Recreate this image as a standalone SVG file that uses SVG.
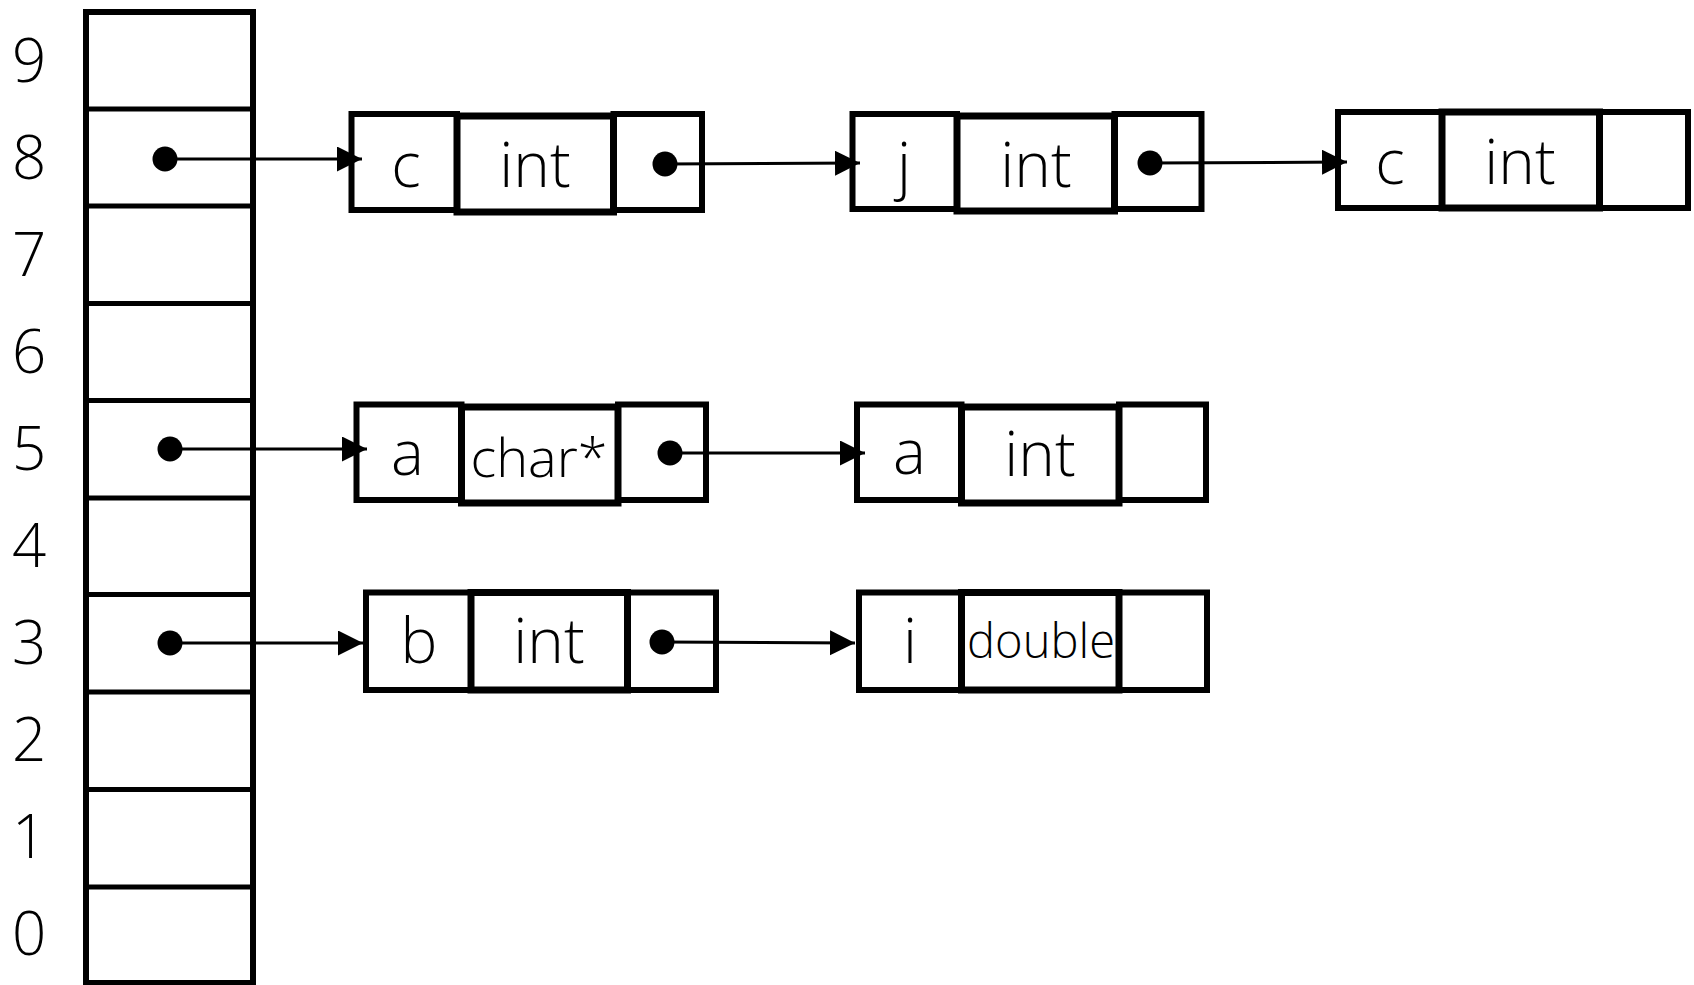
<svg xmlns="http://www.w3.org/2000/svg" width="1694" height="985" viewBox="0 0 1694 985">
<style>
.cell{fill:#fff;stroke:#000;stroke-width:6}
.tcell{fill:#fff;stroke:#000;stroke-width:7}
.div{stroke:#000;stroke-width:5}
.t{font-family:"Open Sans","Noto Sans","Noto Sans CJK SC",sans-serif;font-weight:300;font-size:62px;fill:#000;text-anchor:middle}
.idx{font-family:"Open Sans","Noto Sans","Noto Sans CJK SC",sans-serif;font-weight:300;font-size:60px;fill:#000;text-anchor:middle}
.dot{fill:#000}
.conn{stroke:#000;stroke-width:3;fill:none;marker-end:url(#arr)}
</style>
<defs>
<marker id="arr" markerUnits="userSpaceOnUse" markerWidth="26" markerHeight="26" refX="25" refY="12.5" orient="auto">
<path d="M0,0 L25,12.5 L0,25 z" fill="#000"/>
</marker>
</defs>
<rect width="1694" height="985" fill="#fff"/>
<g id="stack">
<rect class="cell" x="86" y="12" width="167" height="971"/>
<line class="div" x1="86" y1="109" x2="253" y2="109"/>
<line class="div" x1="86" y1="206" x2="253" y2="206"/>
<line class="div" x1="86" y1="303.5" x2="253" y2="303.5"/>
<line class="div" x1="86" y1="400.5" x2="253" y2="400.5"/>
<line class="div" x1="86" y1="498" x2="253" y2="498"/>
<line class="div" x1="86" y1="594.5" x2="253" y2="594.5"/>
<line class="div" x1="86" y1="692" x2="253" y2="692"/>
<line class="div" x1="86" y1="789.5" x2="253" y2="789.5"/>
<line class="div" x1="86" y1="887" x2="253" y2="887"/>
<circle class="dot" cx="165" cy="159" r="12.5"/>
<circle class="dot" cx="170" cy="449" r="12.5"/>
<circle class="dot" cx="170" cy="643" r="12.5"/>
</g>
<g id="indices">
<text class="idx" x="29" y="82">9</text>
<text class="idx" x="29" y="179">8</text>
<text class="idx" x="29" y="276">7</text>
<text class="idx" x="29" y="373">6</text>
<text class="idx" x="29" y="470">5</text>
<text class="idx" x="29" y="567">4</text>
<text class="idx" x="29" y="664">3</text>
<text class="idx" x="29" y="761">2</text>
<text class="idx" x="29" y="858">1</text>
<text class="idx" x="29" y="955">0</text>
</g>
<g id="node-c-int-1">
<rect class="cell" x="351.5" y="114" width="105.5" height="96"/>
<rect class="cell" x="613.5" y="114" width="88.5" height="96"/>
<rect class="tcell" x="457" y="116" width="156.5" height="96"/>
<text class="t" x="406" y="187">c</text>
<text class="t" x="535" y="187">int</text>
<circle class="dot" cx="665" cy="164" r="12.5"/>
</g>
<g id="node-j-int">
<rect class="cell" x="852.5" y="114" width="104.5" height="95"/>
<rect class="cell" x="1114.5" y="114" width="87" height="95"/>
<rect class="tcell" x="957" y="116" width="157.5" height="95"/>
<text class="t" x="904" y="187">j</text>
<text class="t" x="1036" y="187">int</text>
<circle class="dot" cx="1150" cy="163" r="12.5"/>
</g>
<g id="node-c-int-2">
<rect class="cell" x="1338" y="112" width="104" height="96"/>
<rect class="cell" x="1599.5" y="112" width="88.5" height="96"/>
<rect class="tcell" x="1442" y="112" width="157.5" height="96"/>
<text class="t" x="1390" y="184">c</text>
<text class="t" x="1520" y="184">int</text>
</g>
<g id="node-a-charp">
<rect class="cell" x="356.5" y="404.5" width="105" height="95.5"/>
<rect class="cell" x="618" y="404.5" width="88" height="95.5"/>
<rect class="tcell" x="461.5" y="407" width="156.5" height="96"/>
<text class="t" x="407.5" y="475">a</text>
<text class="t" x="539" y="477" style="font-size:54px" textLength="137" lengthAdjust="spacingAndGlyphs">char*</text>
<circle class="dot" cx="670" cy="453" r="12.5"/>
</g>
<g id="node-a-int">
<rect class="cell" x="857" y="404.5" width="104.5" height="95.5"/>
<rect class="cell" x="1119" y="404.5" width="87" height="95.5"/>
<rect class="tcell" x="961.5" y="407" width="157.5" height="96"/>
<text class="t" x="909.5" y="474">a</text>
<text class="t" x="1040" y="476">int</text>
</g>
<g id="node-b-int">
<rect class="cell" x="366" y="592.5" width="105" height="97.5"/>
<rect class="cell" x="627.5" y="592.5" width="88.5" height="97.5"/>
<rect class="tcell" x="471" y="592.5" width="156.5" height="97.5"/>
<text class="t" x="419" y="663">b</text>
<text class="t" x="549" y="663">int</text>
<circle class="dot" cx="662" cy="642" r="12.5"/>
</g>
<g id="node-i-double">
<rect class="cell" x="859" y="592.5" width="102.5" height="97.5"/>
<rect class="cell" x="1119" y="592.5" width="88" height="97.5"/>
<rect class="tcell" x="961.5" y="592.5" width="157.5" height="97.5"/>
<text class="t" x="910" y="663">i</text>
<text class="t" x="1041" y="658" style="font-size:47px" textLength="148" lengthAdjust="spacingAndGlyphs">double</text>
</g>
<g id="connectors">
<line class="conn" x1="165" y1="159" x2="362" y2="159"/>
<line class="conn" x1="665" y1="164" x2="860" y2="163"/>
<line class="conn" x1="1150" y1="163" x2="1347" y2="162"/>
<line class="conn" x1="170" y1="449" x2="367" y2="449"/>
<line class="conn" x1="670" y1="453" x2="865" y2="453"/>
<line class="conn" x1="170" y1="643" x2="363" y2="643"/>
<line class="conn" x1="662" y1="642" x2="855" y2="643"/>
</g>
</svg>
